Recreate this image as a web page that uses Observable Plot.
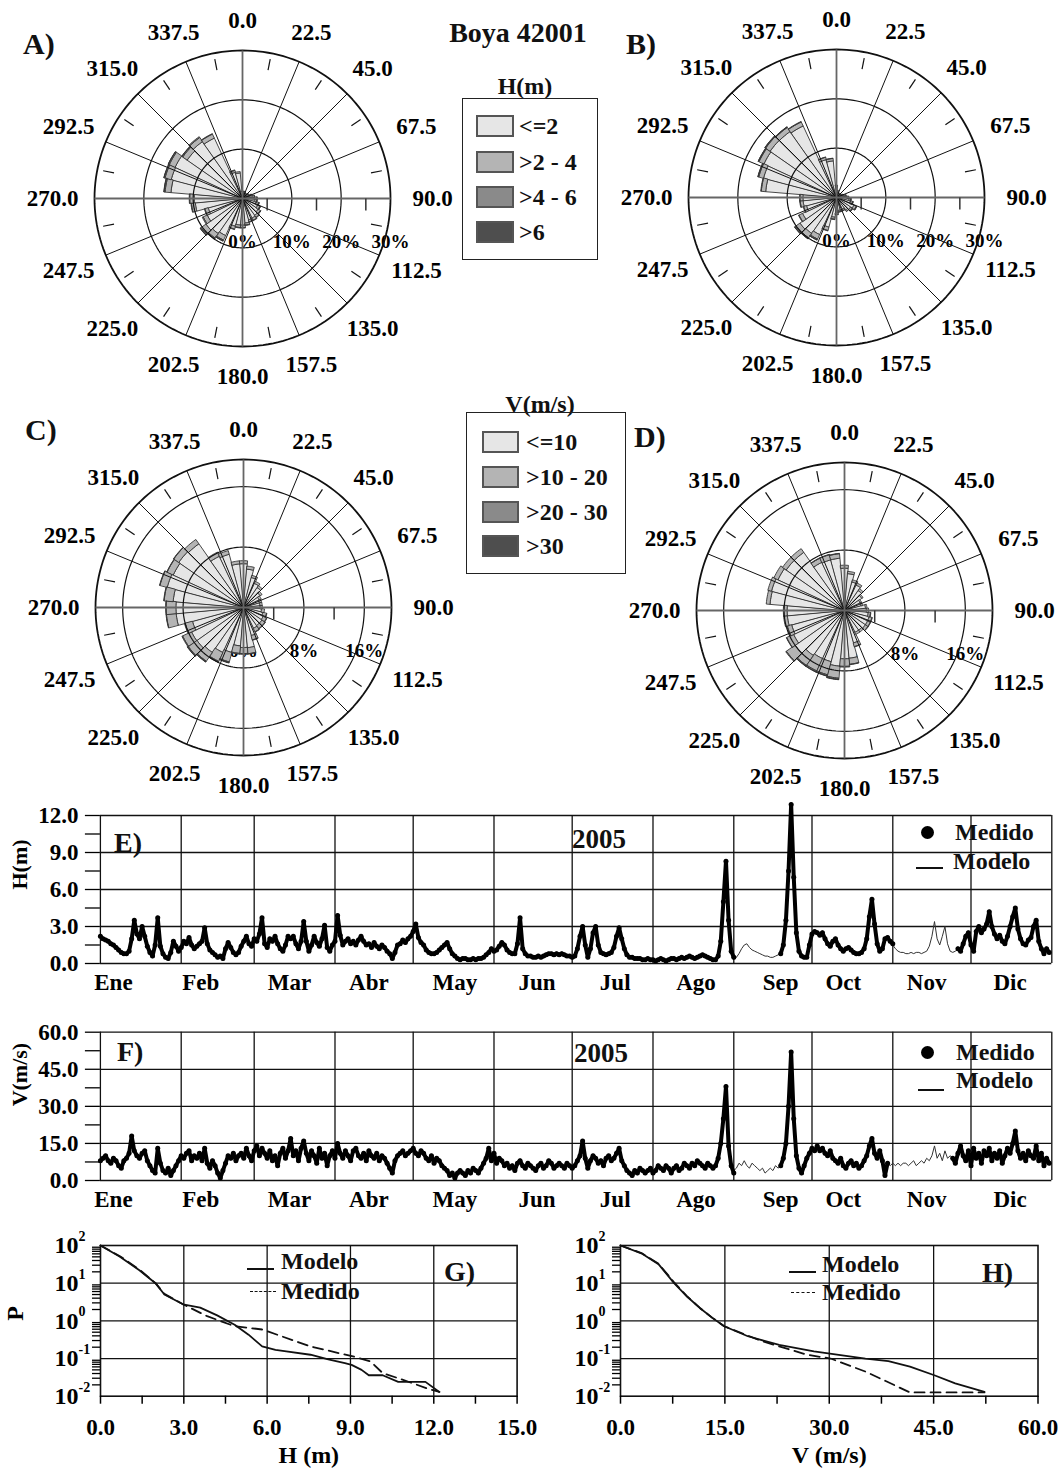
<!DOCTYPE html>
<html><head><meta charset="utf-8">
<script src="https://cdn.jsdelivr.net/npm/d3@7"></script>
<script src="https://cdn.jsdelivr.net/npm/@observablehq/plot@0.6"></script>
<style>
html,body{margin:0;padding:0;background:#fff;overflow:hidden;}
#root{position:relative;width:1061px;height:1474px;font-family:"Liberation Serif","Times New Roman",serif;font-weight:bold;color:#111;overflow:hidden;}
.t{position:absolute;white-space:nowrap;line-height:1;transform:translateY(-50%);}
</style></head><body><div id="root"></div>
<script>
// ---------- rose data (percent of time per 10-degree sector) ----------
const dirs = [0,10,20,30,40,50,60,70,80,90,100,110,120,130,140,150,160,170,180,190,200,210,220,230,240,250,260,270,280,290,300,310,320,330,340,350];
const hCats = ["<=2", ">2 - 4", ">4 - 6", ">6"];
const vCats = ["<=10", ">10 - 20", ">20 - 30", ">30"];
const shades = ["#e6e6e6", "#b4b4b4", "#8a8a8a", "#4e4e4e"];

const roseA1 = [1.4,1.4,1.4,1.1,1.1,1.4,1.4,1.8,2.15,2.45, 2.45,2.85,3.35,3.85,4.2,4.4,4.5,5.0,5.4,5.4, 5.8,8.25,8.65,9.05,7.9,7.2,9.6,9.8,14.55,14.95, 15.05,13.65,14.1,13.5,5.5,5.2];
const roseA2 = [0.1,0.1,0.1,0.1,0.1,0.1,0.1,0.2,0.3,0.4, 0.4,0.5,0.5,0.5,0.5,0.5,0.4,0.4,0.5,0.5, 0.6,1.0,1.1,1.2,0.9,0.7,0.8,0.9,1.2,1.3, 1.3,1.1,1.0,0.9,0.4,0.3];
const roseA3 = [0,0,0,0,0,0,0,0,0.05,0.1, 0.1,0.1,0.1,0.1,0.1,0.1,0.1,0.1,0.1,0.1, 0.1,0.2,0.2,0.2,0.2,0.1,0.1,0.1,0.2,0.2, 0.2,0.2,0.2,0.1,0.1,0];
const roseA4 = [0,0,0,0,0,0,0,0,0,0.05, 0.05,0.05,0.05,0.05,0,0,0,0,0,0, 0,0.05,0.05,0.05,0,0,0,0,0.05,0.05, 0.05,0.05,0,0,0,0];

const roseB1 = [2.3,1.4,1.1,0.9,0.9,0.9,1.1,1.3,1.75,2.1, 2.55,2.95,3.85,3.45,3.15,2.65,2.65,2.65,3.15,4.0, 6.2,8.25,8.85,9.05,7.6,6.3,6.8,6.8,14.4,15.3, 16.2,16.4,16.35,16.0,7.95,7.45];
const roseB2 = [0.2,0.1,0.1,0.1,0.1,0.1,0.1,0.2,0.2,0.3, 0.3,0.4,0.5,0.4,0.3,0.3,0.3,0.3,0.3,0.4, 0.7,1.0,1.1,1.1,0.8,0.6,0.6,0.6,0.9,1.0, 1.1,1.1,1.0,0.9,0.5,0.5];
const roseB3 = [0,0,0,0,0,0,0,0,0.05,0.1, 0.1,0.1,0.1,0.1,0.05,0.05,0.05,0.05,0.05,0.1, 0.1,0.2,0.2,0.2,0.1,0.1,0.1,0.1,0.1,0.15, 0.15,0.15,0.1,0.1,0.05,0.05];
const roseB4 = [0,0,0,0,0,0,0,0,0,0, 0.05,0.05,0.05,0.05,0,0,0,0,0,0, 0,0.05,0.05,0.05,0,0,0,0,0,0.05, 0.05,0.05,0.05,0,0,0];

const roseC1 = [5.8,5.1,4.1,3.5,3.2,2.7,2.3,2.2,2.2,2.2, 2.4,2.65,2.85,2.95,2.95,3.05,3.85,5.35,5.3,5.1, 6.15,6.55,7.25,7.55,7.6,7.0,8.95,8.95,9.35,10.45, 10.25,10.45,10.3,7.5,7.3,5.8];
const roseC2 = [0.4,0.4,0.3,0.3,0.3,0.3,0.3,0.3,0.3,0.3, 0.4,0.5,0.5,0.5,0.5,0.5,0.6,0.8,0.8,1.0, 1.3,1.3,1.4,1.4,1.3,1.0,1.3,1.3,1.2,1.0, 0.9,0.8,0.7,0.6,0.5,0.4];
const roseC3 = [0,0,0,0,0,0,0,0,0,0, 0,0.05,0.05,0.05,0.05,0.05,0.05,0.05,0.1,0.1, 0.1,0.1,0.1,0.1,0.1,0.1,0.05,0.05,0.05,0.05, 0.05,0.05,0,0,0,0];
const roseC4 = [0,0,0,0,0,0,0,0,0,0, 0,0,0,0,0,0,0,0,0,0, 0.05,0.05,0.05,0.05,0,0,0,0,0,0, 0,0,0,0,0,0];

const roseD1 = [5.6,4.9,3.9,3.7,3.2,2.8,2.3,2.3,2.8,2.9, 3.15,3.35,3.35,3.35,3.2,3.2,4.45,6.35,6.4,7.4, 7.0,7.0,7.25,8.0,7.45,7.25,7.6,7.6,9.9,10.0, 9.7,9.4,9.4,7.05,6.95,6.95];
const roseD2 = [0.4,0.3,0.3,0.3,0.3,0.2,0.2,0.2,0.2,0.3, 0.3,0.4,0.4,0.4,0.3,0.3,0.5,0.8,1.0,1.6, 1.8,1.8,1.6,1.4,1.0,0.6,0.5,0.5,0.5,0.5, 0.6,0.6,0.6,0.6,0.7,0.6];
const roseD3 = [0,0,0,0,0,0,0,0,0,0, 0.05,0.05,0.05,0.05,0,0,0.05,0.05,0.1,0.15, 0.15,0.15,0.1,0.1,0.05,0.05,0,0,0,0, 0,0,0,0.05,0.05,0.05];
const roseD4 = [0,0,0,0,0,0,0,0,0,0, 0,0,0,0,0,0,0,0,0,0.05, 0.05,0.05,0.05,0,0,0,0,0,0,0, 0,0,0,0,0,0];

const compass = [0,22.5,45,67.5,90,112.5,135,157.5,180,202.5,225,247.5,270,292.5,315,337.5];
const compassLabels = ["0.0","22.5","45.0","67.5","90.0","112.5","135.0","157.5","180.0","202.5","225.0","247.5","270.0","292.5","315.0","337.5"];
const ringsH = [10, 20], outerH = 30, pctH = [0, 10, 20, 30], radTicksH = [5, 15, 25];
const ringsV = [8, 16], outerV = 19.6, pctV = [0, 8, 16], radTicksV = [4, 12];

// ---------- time series 2005 (daily, day-of-year index 0..364) ----------
const _ = null;
const hMedido = [
2.2,2.0,1.9,1.8,1.6,1.5,1.3,1.1,0.9,0.8,
0.8,1.0,2.0,3.5,2.4,2.0,3.0,2.2,1.4,0.9,
0.6,1.5,3.7,1.4,0.8,0.5,0.4,0.9,1.8,1.4,
1.0,1.3,1.8,1.6,2.1,1.5,1.2,1.4,1.6,1.8,
2.9,1.6,1.1,0.9,0.7,0.5,0.6,0.4,1.2,1.7,
1.3,0.9,0.7,0.9,1.4,1.8,2.2,1.6,1.4,2.0,
1.8,2.4,3.7,1.6,1.3,2.0,1.8,2.2,1.6,1.2,
1.0,1.5,2.2,2.0,2.2,1.6,1.2,1.8,3.4,1.8,
1.0,1.5,2.2,1.7,1.4,2.0,3.1,1.3,1.0,1.5,
1.8,3.9,2.3,1.5,1.8,2.0,1.6,1.8,1.5,1.9,
2.2,1.8,1.5,1.6,1.3,1.7,1.4,1.2,1.5,1.3,
1.0,0.8,0.4,0.9,1.5,1.6,1.9,1.7,2.0,2.2,
2.6,3.2,2.1,1.7,1.5,1.1,0.9,0.8,0.8,0.9,
1.1,1.3,1.5,1.7,1.2,0.8,0.6,0.4,0.3,0.4,
0.4,0.3,0.3,0.4,0.3,0.4,0.4,0.5,0.7,0.9,
1.2,1.0,1.1,1.4,1.7,1.5,1.1,0.9,0.8,0.8,
1.6,3.7,1.2,0.8,0.6,0.6,0.5,0.5,0.6,0.5,
0.6,0.7,0.8,0.8,0.7,0.8,0.7,0.8,0.7,0.6,
0.6,0.5,0.6,1.2,2.2,3.0,1.5,0.5,1.2,2.5,
3.0,1.5,0.9,0.8,0.7,0.8,0.9,1.3,2.2,2.9,
2.0,1.2,0.7,0.5,0.5,0.4,0.4,0.4,0.3,0.3,
0.4,0.3,0.3,0.2,0.3,0.4,0.3,0.2,0.3,0.4,
0.4,0.3,0.4,0.5,0.4,0.5,0.6,0.5,0.4,0.5,
0.6,0.7,0.6,0.5,0.4,0.3,0.3,0.6,1.8,5.0,
8.3,3.5,1.0,0.5,_,_,_,_,_,_,
_,_,_,_,_,_,_,_,_,_,
_,0.8,1.5,3.5,7.5,12.9,7.0,2.5,1.0,0.6,
0.5,0.5,1.5,2.4,2.6,2.5,2.3,2.5,2.0,1.6,
1.4,1.8,2.0,1.5,1.2,1.0,1.2,1.3,1.1,0.9,
0.8,0.8,0.9,1.2,2.0,3.8,5.2,3.2,1.6,1.0,
1.2,2.0,2.1,1.8,1.6,_,_,_,_,_,
_,_,_,_,_,_,_,_,_,_,
_,_,_,_,_,_,_,_,_,1.2,
1.0,1.6,2.2,2.5,1.5,1.0,2.6,3.0,2.5,2.8,
3.2,4.2,3.0,2.4,2.0,2.3,1.8,1.6,2.2,3.0,
3.8,4.5,2.8,2.0,1.6,1.5,1.9,2.1,3.0,3.5,
1.8,1.2,0.8,1.2,0.9];
const hModelo = [
2.1,2.0,1.8,1.7,1.6,1.4,1.2,1.0,0.9,0.8,
0.9,1.1,2.2,3.2,2.5,2.1,2.8,2.1,1.5,1.0,
0.7,1.6,3.5,1.5,0.9,0.6,0.5,1.0,1.7,1.3,
1.1,1.4,1.7,1.7,2.0,1.6,1.3,1.4,1.5,1.9,
2.7,1.7,1.2,0.9,0.8,0.6,0.6,0.5,1.1,1.6,
1.3,1.0,0.8,1.0,1.4,1.7,2.1,1.7,1.5,2.0,
1.9,2.5,3.5,1.7,1.4,1.9,1.8,2.1,1.7,1.3,
1.1,1.5,2.1,2.0,2.1,1.7,1.3,1.9,3.2,1.9,
1.1,1.5,2.1,1.8,1.5,2.0,2.9,1.4,1.1,1.5,
1.9,3.6,2.4,1.6,1.8,1.9,1.7,1.8,1.6,1.9,
2.1,1.8,1.6,1.6,1.4,1.6,1.5,1.3,1.4,1.3,
1.1,0.9,0.5,0.9,1.4,1.6,1.8,1.8,2.0,2.1,
2.5,3.0,2.2,1.8,1.5,1.2,1.0,0.9,0.8,0.9,
1.1,1.3,1.5,1.6,1.3,0.9,0.7,0.5,0.4,0.4,
0.4,0.4,0.4,0.4,0.4,0.4,0.5,0.5,0.7,0.9,
1.1,1.1,1.2,1.4,1.6,1.5,1.2,1.0,0.8,0.8,
1.5,3.5,1.3,0.9,0.7,0.6,0.6,0.5,0.6,0.6,
0.6,0.7,0.8,0.8,0.8,0.8,0.7,0.8,0.7,0.7,
0.6,0.6,0.7,1.2,2.1,2.9,1.6,0.6,1.3,2.4,
2.9,1.6,1.0,0.8,0.8,0.8,0.9,1.3,2.1,2.8,
2.0,1.2,0.8,0.6,0.5,0.5,0.4,0.4,0.4,0.3,
0.4,0.4,0.3,0.3,0.3,0.4,0.3,0.3,0.3,0.4,
0.4,0.4,0.4,0.5,0.5,0.5,0.6,0.5,0.5,0.5,
0.6,0.7,0.6,0.5,0.4,0.4,0.4,0.7,1.9,4.8,
8.0,3.6,1.1,0.6,0.5,0.8,1.2,1.5,1.6,1.3,
1.1,1.0,0.9,0.8,0.7,0.6,0.6,0.5,0.5,0.6,
0.7,0.9,1.6,3.4,7.2,12.5,6.8,2.6,1.1,0.7,
0.6,0.6,1.4,2.3,2.5,2.4,2.3,2.4,2.0,1.7,
1.5,1.8,1.9,1.5,1.3,1.1,1.2,1.3,1.1,1.0,
0.9,0.9,1.0,1.3,2.1,3.7,5.0,3.1,1.7,1.1,
1.2,1.9,2.0,1.8,1.5,1.2,1.0,0.9,0.9,0.8,
0.8,0.9,0.8,0.9,0.9,0.8,0.9,1.0,1.4,2.2,
3.4,2.0,1.5,2.2,3.0,1.6,1.0,0.9,1.0,1.2,
1.1,1.6,2.1,2.4,1.6,1.1,2.5,2.9,2.5,2.7,
3.1,4.0,3.0,2.5,2.1,2.2,1.9,1.7,2.1,2.9,
3.6,4.3,2.9,2.1,1.7,1.6,1.9,2.0,2.9,3.4,
1.9,1.3,0.9,1.1,1.0];
const vMedido = [
8,9,10,8,7,9,8,6,5,8,
9,11,18,12,10,9,11,12,8,6,
4,3,13,7,4,3,5,2,4,6,
8,10,9,11,12,8,10,9,11,8,
13,7,5,8,6,3,1,4,7,10,
9,11,8,10,11,9,13,10,8,12,
14,10,13,11,9,12,8,10,6,11,
13,9,12,17,10,12,8,13,16,11,
8,12,10,7,13,9,11,6,10,12,
9,15,11,9,12,10,8,12,13,10,
9,11,8,12,10,9,11,8,10,9,
7,5,3,8,10,11,12,10,11,12,
13,11,10,12,11,9,8,10,7,9,
8,6,5,4,2,3,1,3,4,3,
2,4,3,5,4,3,5,7,9,13,
8,11,7,9,8,6,7,5,6,4,
7,8,6,5,7,6,5,4,6,7,
5,6,8,7,5,6,7,6,5,7,
6,5,6,8,10,16,9,5,8,10,
9,7,8,6,9,10,8,9,11,13,
8,6,4,3,2,4,3,5,4,3,
4,5,3,4,6,5,4,6,5,3,
5,6,4,5,7,6,5,7,6,8,
7,6,5,7,6,5,6,9,15,25,
38,14,6,3,_,_,_,_,_,_,
_,_,_,_,_,_,_,_,_,_,
_,6,9,15,30,52,25,10,5,3,
6,9,11,13,12,14,12,13,11,10,
12,9,8,7,9,6,5,7,8,6,
7,5,6,8,10,14,17,11,9,12,
8,2,7,_,_,_,_,_,_,_,
_,_,_,_,_,_,_,_,_,_,
_,_,_,_,_,_,_,9,7,11,
14,10,8,12,6,13,9,11,7,12,
10,13,8,11,9,12,7,10,13,11,
15,20,12,9,11,8,12,10,9,14,
8,11,6,9,7];
const vModelo = [
8,9,9,8,8,9,7,6,6,8,
9,11,16,12,10,9,10,11,8,6,
5,4,12,7,5,4,5,3,4,6,
8,9,9,10,11,9,10,9,10,8,
12,7,6,7,6,4,2,4,7,9,
9,10,8,10,10,9,12,10,8,11,
13,10,12,11,9,11,8,10,7,10,
12,9,11,16,10,11,8,12,15,11,
8,11,10,8,12,9,10,7,10,11,
9,14,11,9,11,10,8,11,12,10,
9,10,8,11,10,9,10,8,10,9,
7,5,4,8,9,10,11,10,11,11,
12,11,10,11,10,9,8,9,7,8,
7,6,5,4,3,3,2,3,4,3,
3,4,3,5,4,4,5,7,9,12,
8,10,7,8,8,6,7,5,6,5,
7,8,6,5,6,6,5,5,6,7,
5,6,7,7,5,6,7,6,5,6,
6,5,6,8,10,15,9,6,8,10,
9,7,8,7,9,9,8,9,10,12,
8,6,4,3,3,4,3,5,4,4,
4,5,4,4,6,5,4,6,5,4,
5,6,5,5,7,6,5,6,6,7,
7,6,5,6,6,5,6,9,14,24,
36,14,7,4,5,7,6,8,6,5,
7,6,5,4,5,3,4,5,4,6,
5,6,9,14,29,50,24,10,5,4,
6,9,11,12,12,13,12,12,11,10,
11,9,8,7,8,6,6,7,8,6,
7,5,6,8,10,13,16,11,9,11,
8,3,7,6,7,6,7,6,7,7,
6,7,8,6,7,8,7,9,8,10,
14,9,11,8,12,9,10,9,7,10,
13,10,8,11,7,12,9,10,7,11,
10,12,8,10,9,11,8,10,12,11,
14,19,12,9,10,8,11,10,9,13,
8,10,6,9,7];
const monthStarts = [0,31,59,90,120,151,181,212,243,273,304,334,365];
const monthLabelDays = [5,38.5,72.5,103,136,167.5,197.5,228.5,261,285,317,349];
const monthNames = ["Ene","Feb","Mar","Abr","May","Jun","Jul","Ago","Sep","Oct","Nov","Dic"];
const hMajor = [0,3,6,9,12], hMinor = [1.5,4.5,7.5,10.5];
const vMajor = [0,15,30,45,60], vMinor = [7.5,22.5,37.5,52.5];

// ---------- exceedance probability (%) ----------
const gModH = [0,0.7,1.4,1.98,2.3,2.97,3.59,4.2,4.83,5.33,5.82,6.3,6.69,7.56,8.2,8.8,9.04,9.4,9.66,10.16,10.72,11.7,12.2];
const gModP = [100,50,22,10,5.0,2.75,2.24,1.4,0.79,0.43,0.21,0.17,0.155,0.126,0.095,0.075,0.068,0.05,0.036,0.036,0.024,0.024,0.013];
const gMedH = [0,0.7,1.4,1.98,2.3,2.97,3.84,4.83,5.82,7.56,9.17,9.73,10.16,10.78,11.77,12.2];
const gMedP = [100,52,23,10,5.2,2.75,1.33,0.72,0.59,0.21,0.11,0.083,0.041,0.029,0.016,0.013];
const hModV = [0,3,5.46,7.7,9.5,11.4,13.2,14.9,18.3,22.8,27.8,35.2,38.5,41.6,45.1,48.1,52.3];
const hModP = [100,62,32,10,4.5,2.2,1.2,0.72,0.39,0.23,0.155,0.10,0.085,0.061,0.036,0.022,0.013];
const hMedV = [0,3,5.46,7.7,9.5,11.4,13.2,14.9,20.3,26.8,30.2,35.2,41.6,52.3];
const hMedP = [100,63,33,10.5,4.6,2.2,1.2,0.72,0.29,0.126,0.10,0.045,0.0126,0.0126];
const decades = [100,10,1,0.1,0.01];
const decadeExp = ["2","1","0","-1","-2"];
const logMinor = [0.02,0.03,0.04,0.05,0.06,0.07,0.08,0.09,0.2,0.3,0.4,0.5,0.6,0.7,0.8,0.9,2,3,4,5,6,7,8,9,20,30,40,50,60,70,80,90];

// ---------- helpers ----------
const root = document.getElementById("root");
const baseStyle = {background: "transparent", fontFamily: '"Liberation Serif","Times New Roman",serif', fontWeight: "bold", fontSize: "23px", color: "#000"};
const rad = Math.PI / 180;
function mount(svg, left, top, w) {
  const d = document.createElement("div");
  d.style.cssText = `position:absolute;left:${left}px;top:${top}px;width:${w}px;`;
  d.appendChild(svg); root.appendChild(d);
}
function label(text, x, yc, size, center) {
  const d = document.createElement("div");
  d.className = "t"; d.textContent = text;
  d.style.fontSize = size + "px"; d.style.left = x + "px"; d.style.top = yc + "px";
  if (center) d.style.transform = "translate(-50%,-50%)";
  root.appendChild(d);
}
function block(x, y, w, h, css) {
  const d = document.createElement("div");
  d.style.cssText = `position:absolute;left:${x}px;top:${y}px;width:${w}px;height:${h}px;box-sizing:border-box;${css}`;
  root.appendChild(d);
}

function roseChart(layers, rings, outer, pctTicks, radTicks) {
  const W = 450, H = 400, R = 148, k = R / outer;
  const sect = [];
  dirs.forEach((d, i) => {
    let r0 = 0;
    layers.forEach((arr, j) => {
      const v = arr[i];
      if (!(v > 0)) return;
      const r1 = r0 + v, id = i * 4 + j, n = 6;
      for (let s = 0; s <= n; s++) { const a = (d - 5 + 10 * s / n) * rad; sect.push({id, j, x: r1 * Math.sin(a), y: r1 * Math.cos(a)}); }
      if (r0 === 0) sect.push({id, j, x: 0, y: 0});
      else for (let s = n; s >= 0; s--) { const a = (d - 5 + 10 * s / n) * rad; sect.push({id, j, x: r0 * Math.sin(a), y: r0 * Math.cos(a)}); }
      r0 = r1;
    });
  });
  const ringPts = r => d3.range(0, 362, 2).map(a => ({r, x: r * Math.sin(a * rad), y: r * Math.cos(a * rad)}));
  const inner = rings.flatMap(ringPts);
  const minorDirs = compass.map(a => a + 11.25);
  const lr = a => (178 + 12 * Math.sin(a * rad) ** 2) / k;
  return Plot.plot({
    width: W, height: H, margin: 0,
    x: {domain: [-W / 2 / k, W / 2 / k], axis: null},
    y: {domain: [-H / 2 / k, H / 2 / k], axis: null},
    style: baseStyle,
    marks: [
      Plot.text(pctTicks, {x: d => d, y: () => -43 / k, text: d => d + "%", fontSize: 19}),
      ...shades.map((c, j) => Plot.line(sect.filter(p => p.j === j), {x: "x", y: "y", z: "id", curve: "linear-closed", fill: c, stroke: "#333", strokeWidth: 0.9})),
      Plot.line(inner, {x: "x", y: "y", z: "r", stroke: "#111", strokeWidth: 1.2}),
      Plot.line(ringPts(outer), {x: "x", y: "y", stroke: "#111", strokeWidth: 1.8}),
      Plot.link(compass.filter(a => a % 90 !== 0), {x1: () => 0, y1: () => 0, x2: a => outer * Math.sin(a * rad), y2: a => outer * Math.cos(a * rad), stroke: "#111", strokeWidth: 1}),
      Plot.link(compass.filter(a => a % 90 === 0), {x1: () => 0, y1: () => 0, x2: a => outer * Math.sin(a * rad), y2: a => outer * Math.cos(a * rad), stroke: "#666", strokeWidth: 1.8}),
      Plot.link(minorDirs, {x1: a => 0.885 * outer * Math.sin(a * rad), y1: a => 0.885 * outer * Math.cos(a * rad), x2: a => 0.96 * outer * Math.sin(a * rad), y2: a => 0.96 * outer * Math.cos(a * rad), stroke: "#111", strokeWidth: 1.2}),
      Plot.link(radTicks, {x1: d => d, x2: d => d, y1: () => 0, y2: () => -12 / k, stroke: "#333", strokeWidth: 1.5}),
      Plot.text(compass, {x: a => lr(a) * Math.sin(a * rad), y: a => lr(a) * Math.cos(a * rad), text: (a, i) => compassLabels[i], fontSize: 23})
    ]
  });
}

function seriesChart(med, mod, yMax, yMajor, yMinor, yLabel, height, mTop, mBottom) {
  return Plot.plot({
    width: 1061, height, marginLeft: 99.9, marginRight: 9.7, marginTop: mTop, marginBottom: mBottom,
    x: {domain: [0, 365], axis: null},
    y: {domain: [0, yMax], axis: null},
    style: baseStyle,
    marks: [
      Plot.ruleY(yMajor, {stroke: "#111", strokeWidth: 1.3}),
      Plot.ruleX(monthStarts, {stroke: "#111", strokeWidth: 1.3}),
      Plot.axisY({ticks: [...yMajor, ...yMinor], tickSize: 15, tickPadding: 7, strokeWidth: 1.3, tickFormat: d => yMajor.includes(d) ? d.toFixed(1) : "", fontSize: 23}),
      Plot.axisX({ticks: monthLabelDays, tickSize: 0, tickPadding: 10, tickFormat: d => monthNames[monthLabelDays.indexOf(d)], fontSize: 23}),
      Plot.text([yLabel], {text: d => d, frameAnchor: "left", dx: -80, rotate: -90, fontSize: 22}),
      Plot.line(mod, {x: (d, i) => i, y: d => d, stroke: "#333", strokeWidth: 1}),
      Plot.line(med, {x: (d, i) => i, y: d => d, stroke: "#000", strokeWidth: 4}),
      Plot.dot(med, {x: (d, i) => i, y: d => d, r: 2.5, fill: "#000"})
    ]
  });
}

function exceedChart(width, mRight, xMax, xMajor, xMinor, xGrid, modX, modP, medX, medP, xLabel, showP) {
  return Plot.plot({
    width, height: 254, marginLeft: 100, marginRight: mRight, marginTop: 25, marginBottom: 78.3,
    x: {domain: [0, xMax], axis: null},
    y: {type: "log", domain: [0.01, 100], axis: null},
    style: baseStyle,
    marks: [
      Plot.ruleX(xGrid, {stroke: "#111", strokeWidth: 1.3}),
      Plot.ruleY(decades.slice(1, -1), {stroke: "#111", strokeWidth: 1.3}),
      Plot.frame({stroke: "#111", strokeWidth: 1.6}),
      Plot.axisX({ticks: xMajor, tickSize: 8, tickPadding: 14, strokeWidth: 1.5, tickFormat: d => d.toFixed(1), fontSize: 23}),
      Plot.axisX({ticks: xMinor, tickSize: 8, strokeWidth: 1.5, tickFormat: () => ""}),
      Plot.axisY({ticks: logMinor, tickSize: 8, strokeWidth: 1.3, tickFormat: () => ""}),
      Plot.text(decades, {y: d => d, frameAnchor: "left", dx: -22, textAnchor: "end", text: () => "10", fontSize: 24}),
      Plot.text(decades, {y: d => d, frameAnchor: "left", dx: -22, dy: -9, textAnchor: "start", text: (d, i) => decadeExp[i], fontSize: 14}),
      Plot.text([xLabel], {text: d => d, frameAnchor: "bottom", dy: 67, fontSize: 24}),
      ...(showP ? [Plot.text(["P"], {text: d => d, frameAnchor: "left", dx: -85, rotate: -90, fontSize: 24})] : []),
      Plot.line(medX, {x: d => d, y: (d, i) => medP[i], stroke: "#111", strokeWidth: 1.8, strokeDasharray: "10,6"}),
      Plot.line(modX, {x: d => d, y: (d, i) => modP[i], stroke: "#111", strokeWidth: 1.8})
    ]
  });
}

// ---------- roses ----------
const roses = [
  {layers: [roseA1, roseA2, roseA3, roseA4], rings: ringsH, outer: outerH, pct: pctH, rt: radTicksH, cx: 242, cy: 198},
  {layers: [roseB1, roseB2, roseB3, roseB4], rings: ringsH, outer: outerH, pct: pctH, rt: radTicksH, cx: 836, cy: 197},
  {layers: [roseC1, roseC2, roseC3, roseC4], rings: ringsV, outer: outerV, pct: pctV, rt: radTicksV, cx: 243, cy: 607},
  {layers: [roseD1, roseD2, roseD3, roseD4], rings: ringsV, outer: outerV, pct: pctV, rt: radTicksV, cx: 844, cy: 610}
];
roses.forEach(r => mount(roseChart(r.layers, r.rings, r.outer, r.pct, r.rt), r.cx - 225, r.cy - 200, 450));

// ---------- time series + exceedance ----------
mount(seriesChart(hMedido, hModelo, 12, hMajor, hMinor, "H(m)", 210, 25, 37), 0, 790, 1061);
mount(seriesChart(vMedido, vModelo, 60, vMajor, vMinor, "V(m/s)", 215, 26.7, 40), 0, 1005, 1061);
mount(exceedChart(560, 43.4, 15, [0,3,6,9,12,15], [1.5,4.5,7.5,10.5,13.5], [3,6,9,12], gModH, gModP, gMedH, gMedP, "H (m)", true), 0, 1220, 560);
mount(exceedChart(541, 23.5, 60, [0,15,30,45,60], [7.5,22.5,37.5,52.5], [15,30,45], hModV, hModP, hMedV, hMedP, "V (m/s)", false), 520, 1220, 541);

// ---------- text, legends ----------
label("A)", 23, 44, 30); label("B)", 626, 44, 30); label("C)", 25, 430, 30); label("D)", 634, 437, 30);
label("Boya 42001", 518, 33, 28, true);
label("H(m)", 525, 86, 24, true);
block(462, 98, 136, 162, "border:1.5px solid #222;");
[126, 162, 197, 232].forEach((yc, j) => { block(476, yc - 11, 38, 22, `background:${shades[j]};border:2px solid #555;`); label(hCats[j], 519, yc, 24); });
label("V(m/s)", 540, 404, 24, true);
block(466, 412, 160, 162, "border:1.5px solid #222;");
[442, 477, 512, 546].forEach((yc, j) => { block(482, yc - 11, 37, 22, `background:${shades[j]};border:2px solid #555;`); label(vCats[j], 526, yc, 24); });

// E
label("E)", 114, 843, 28); label("2005", 572, 839, 27);
block(920.5, 825.5, 13, 13, "background:#000;border-radius:50%;");
label("Medido", 955, 832, 24);
block(916, 867, 27, 1.6, "background:#111;");
label("Modelo", 953, 861, 24);
// F
label("F)", 117, 1052, 28); label("2005", 574, 1053, 27);
block(920.5, 1045.5, 13, 13, "background:#000;border-radius:50%;");
label("Medido", 956, 1052, 24);
block(918, 1089, 26, 1.6, "background:#111;");
label("Modelo", 956, 1080, 24);
// G
block(247, 1268, 27, 1.8, "background:#111;");
label("Modelo", 281, 1261, 24);
block(250, 1291, 26, 0, "border-top:1.8px dashed #111;");
label("Medido", 281, 1291, 24);
label("G)", 444, 1272, 28);
// H
block(789, 1271, 27, 1.8, "background:#111;");
label("Modelo", 822, 1264, 24);
block(791, 1292, 24, 0, "border-top:1.8px dashed #111;");
label("Medido", 822, 1292, 24);
label("H)", 982, 1273, 28);
</script></body></html>
